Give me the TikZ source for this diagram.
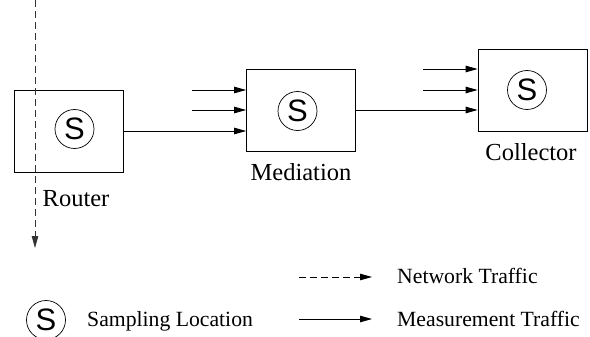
\documentclass[tikz,border=0pt]{standalone}
\usepackage{fontspec}
\setmainfont{Liberation Serif}
\newfontfamily\sampfont{Liberation Sans}
\usetikzlibrary{arrows.meta}

\tikzset{
  unitbox/.style={draw, line width=0.8pt, minimum width=109pt, minimum height=82pt, inner sep=0pt},
  samp/.style={draw, circle, line width=0.7pt, minimum size=39pt, inner sep=0pt, font=\sampfont\fontsize{31}{33}\selectfont},
  lbl/.style={font=\fontsize{24.5}{27}\selectfont, inner sep=0pt},
  legtext/.style={font=\fontsize{21.7}{24}\selectfont, inner sep=0pt, anchor=west},
  meas/.style={line width=0.8pt, -{Triangle[length=12pt, width=6.5pt]}},
  net/.style={line width=0.8pt, black!80, dash pattern=on 7pt off 4pt, -{Triangle[length=12pt, width=6.5pt]}}
}

\begin{document}
\begin{tikzpicture}[x=1pt, y=-1pt]
  \useasboundingbox (0,0) rectangle (590,337);

  % processing units
  \node[unitbox] (router) at (68.5,131) {};
  \node[unitbox] (med)    at (301,110)  {};
  \node[unitbox] (coll)   at (532.5,90) {};

  % sampling points inside the units
  \node[samp] (rs) at (74.5,129) {S};
  \node[samp] (ms) at (297.5,111) {S};
  \node[samp] (cs) at (527,90) {S};

  % unit labels
  \node[lbl] (rlab) at (76,199)  {Router};
  \node[lbl] (mlab) at (301,172) {Mediation};
  \node[lbl] (clab) at (531,152) {Collector};

  % network traffic through the router
  \coordinate (ntop) at (35,0);
  \coordinate (nbot) at (35,248);
  \draw[net] (ntop) -- (nbot);

  % measurement traffic
  \draw[meas] (router.east) -- (med.west |- router.east);
  \coordinate (m1) at (192,90);
  \coordinate (m2) at (192,110);
  \draw[meas] (m1) -- (med.west |- m1);
  \draw[meas] (m2) -- (med.west |- m2);

  \draw[meas] (med.east) -- (coll.west |- med.east);
  \coordinate (c1) at (423,69);
  \coordinate (c2) at (423,90);
  \draw[meas] (c1) -- (coll.west |- c1);
  \draw[meas] (c2) -- (coll.west |- c2);

  % legend
  \node[samp] (legs) at (46,320) {S};
  \node[legtext] (legslab) at (87,321) {Sampling Location};

  \coordinate (ln1) at (299,277);
  \coordinate (ln2) at (372,277);
  \draw[net, black] (ln1) -- (ln2);
  \node[legtext] (lnlab) at (397,276) {Network Traffic};

  \coordinate (lm1) at (299,319);
  \coordinate (lm2) at (372,319);
  \draw[meas] (lm1) -- (lm2);
  \node[legtext] (lmlab) at (397,319) {Measurement Traffic};
\end{tikzpicture}
\end{document}
